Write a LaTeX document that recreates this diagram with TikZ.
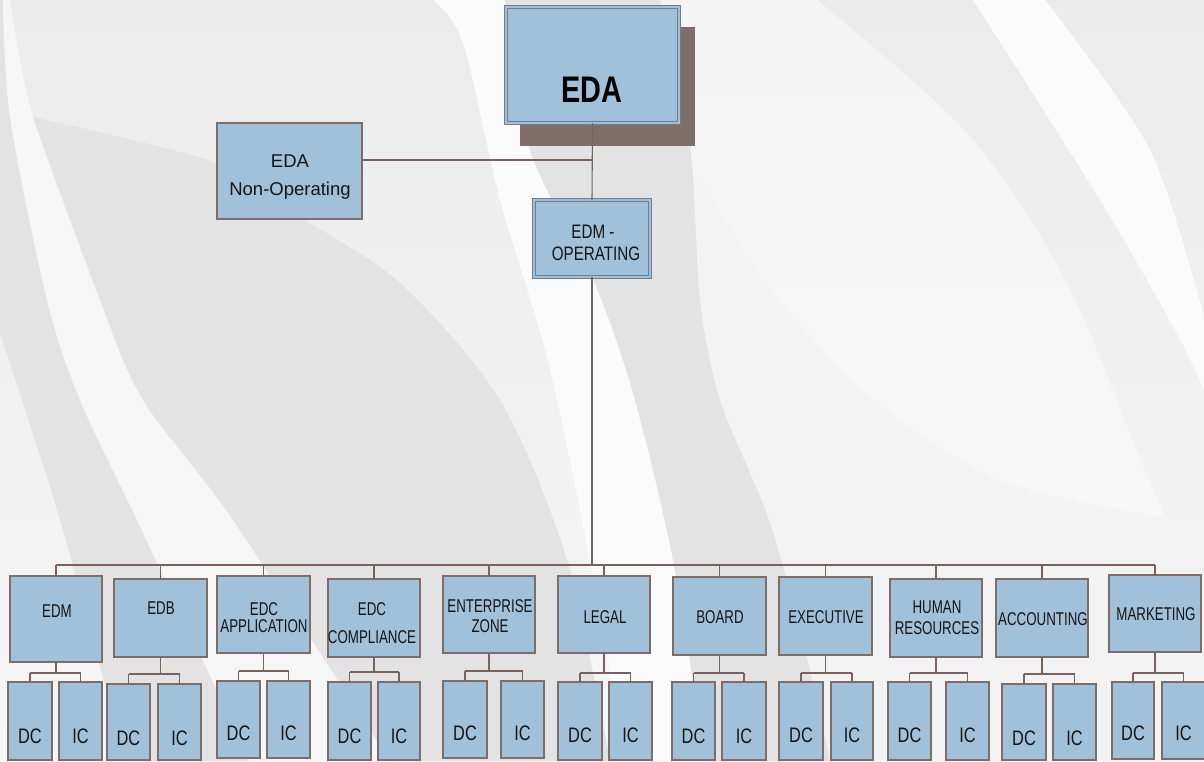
\documentclass[tikz,border=0pt]{standalone}
\usepackage{fontspec}
\setmainfont{Liberation Sans}
\newfontfamily\narf[FakeStretch=0.72]{Liberation Sans}
\newfontfamily\narg[FakeStretch=0.78]{Liberation Sans}
\newfontfamily\nareda[FakeStretch=0.78]{Liberation Sans}
\definecolor{boxfill}{HTML}{A1C0DA}
\definecolor{boxline}{HTML}{7E6C66}
\definecolor{connc}{HTML}{7A625C}
\definecolor{shadowc}{HTML}{7F6E67}
\definecolor{dline}{HTML}{6F7C8C}
\definecolor{txt}{HTML}{151515}
\definecolor{gband}{HTML}{E3E3E3}
\definecolor{wband}{HTML}{FBFBFB}
\definecolor{lband}{HTML}{F6F6F6}
\definecolor{mband}{HTML}{F3F3F3}
\newcommand\bx[6][box]{\node[#1, minimum width={(#5-#3)*1pt}, minimum height={(#6-#4)*1pt}] (#2) at ({(#3+#5)/2},{(#4+#6)/2}) {};}
\newcommand\leaf[7]{\node[box, minimum width={(#4-#2)*1pt}, minimum height={(#5-#3)*1pt}] (#1) at ({(#2+#4)/2},{(#3+#5)/2}) {};
  \node[lf] (#1-t) at ({(#2+#4)/2},#7) {#6};}
\newcommand\kids[4]{%
  \coordinate (#1-j) at (#1.south |- 0,#4);
  \draw[conn] (#1.south) -- (#1-j);
  \draw[conn] (#2.north |- #1-j) -- (#3.north |- #1-j);
  \draw[conn] (#2.north) -- (#2.north |- #1-j);
  \draw[conn] (#3.north) -- (#3.north |- #1-j);}
\begin{document}
\begin{tikzpicture}[x=1pt,y=-1pt,
  box/.style={draw=boxline, line width=1.1pt, fill=boxfill, inner sep=0pt, outer sep=0pt},
  dbox/.style={draw=dline, line width=0.9pt, double=boxfill, double distance=2.2pt, fill=boxfill, inner sep=0pt, outer sep=0pt},
  conn/.style={draw=connc, line width=1.1pt},
  lb/.style={font=\narf\fontsize{18.5}{20}\selectfont, text=txt, inner sep=0pt, anchor=base},
  lf/.style={font=\narg\fontsize{21}{22}\selectfont, text=txt, inner sep=0pt, anchor=base}]
\useasboundingbox (0,0) rectangle (1204,761);
\clip (0,0) rectangle (1204,761);
% ---------------- background
\shade[top color={rgb,255:red,235;green,235;blue,235}, bottom color={rgb,255:red,246;green,246;blue,246}] (0,0) rectangle (1204,761);
% left bands
\fill[gband] (0,0) -- plot[smooth] coordinates {(3,0) (10,117) (47,300) (80,400) (137,520) (250,761)}
  -- plot[smooth] coordinates {(125,761) (60,520) (0,333)} -- cycle;
\fill[lband] plot[smooth] coordinates {(3,0) (10,117) (47,300) (80,400) (137,520) (250,761)}
  -- plot[smooth] coordinates {(390,761) (233,520) (143,400) (100,300) (33,117) (10,0)} -- cycle;
\fill[gband] plot[smooth] coordinates {(33,117) (217,163) (300,217) (400,283) (500,400) (567,560) (610,761)}
  -- plot[smooth] coordinates {(390,761) (233,520) (143,400) (100,300) (33,117)} -- cycle;
% right zone
\shade[top color={rgb,255:red,244;green,244;blue,244}, middle color=white, bottom color={rgb,255:red,248;green,248;blue,248}]
  plot[smooth] coordinates {(660,0) (690,146) (700,300) (720,400) (769,520) (805,650) (830,761)}
  -- (1204,761) -- plot[smooth] coordinates {(1204,600) (1150,483) (1067,283) (967,133) (817,0)} -- cycle;
\fill[mband] plot[smooth] coordinates {(695,170) (780,300) (880,405) (1000,480) (1150,515) (1204,520)}
  -- (1204,761) -- plot[smooth] coordinates {(830,761) (805,650) (769,520) (720,400) (700,300) (695,170)} -- cycle;
\fill[wband] plot[smooth] coordinates {(973,0) (1100,200) (1175,330) (1204,390)}
  -- plot[smooth] coordinates {(1204,317) (1150,150) (1045,0)} -- cycle;
% centre bands
\fill[wband] plot[smooth] coordinates {(433,0) (463,43) (500,200) (547,357) (585,536) (625,761)}
  -- plot[smooth] coordinates {(705,761) (673,560) (633,393) (593,279) (530,150) (505,0)} -- cycle;
\fill[gband] plot[smooth] coordinates {(505,0) (530,150) (593,279) (633,393) (673,560) (705,761)}
  -- plot[smooth] coordinates {(830,761) (805,650) (769,520) (720,400) (700,300) (690,146) (660,0)} -- cycle;
% ---------------- top
\fill[shadowc] (520,27) rectangle (695,146);
\bx[dbox]{eda}{506}{7}{679}{123}
\node[font=\nareda\bfseries\fontsize{37}{40}\selectfont, text=black, inner sep=0pt, anchor=base] (eda-t) at (592,102) {EDA};
\bx{nonop}{217}{123}{362}{219}
\node[font=\fontsize{18.5}{20}\selectfont, text=txt, inner sep=0pt, anchor=base] (nonop-t1) at (290,167) {EDA};
\node[font=\fontsize{18.5}{20}\selectfont, text=txt, inner sep=0pt, anchor=base] (nonop-t2) at (290,195) {Non-Operating};
\bx[dbox]{edmop}{534}{200}{650}{277}
\node[font=\narg\fontsize{19.5}{21}\selectfont, text=txt, inner sep=0pt, anchor=base] (edmop-t1) at (593,238) {EDM -};
\node[font=\narg\fontsize{19.5}{21}\selectfont, text=txt, inner sep=0pt, anchor=base] (edmop-t2) at (596,260) {OPERATING};
\coordinate (j1) at (592,160);
\draw[conn] (eda.south) -- (edmop.north);
\draw[conn] (nonop.east |- j1) -- (j1);
\coordinate (bus) at (592,565);
\draw[conn] (edmop.south) -- (bus);
% ---------------- second level
\bx{edm}{10}{576}{102}{662}
\node[lb] (edm-t) at (57,617) {EDM};
\bx{edb}{114}{579}{207}{657}
\node[lb] (edb-t) at (161,614) {EDB};
\bx{edcapp}{217}{576}{310}{653}
\node[lb] (edcapp-t1) at (264,615) {EDC};
\node[lb] (edcapp-t2) at (264,632) {APPLICATION};
\bx{edccomp}{328}{579}{420}{657}
\node[lb] (edccomp-t1) at (372,615) {EDC};
\node[lb] (edccomp-t2) at (372,643) {COMPLIANCE};
\bx{ez}{443}{576}{535}{653}
\node[lb] (ez-t1) at (490,612) {ENTERPRISE};
\node[lb] (ez-t2) at (490,632) {ZONE};
\bx{legal}{558}{576}{650}{653}
\node[lb] (legal-t) at (605,623) {LEGAL};
\bx{board}{673}{577}{766}{655}
\node[lb] (board-t) at (720,623) {BOARD};
\bx{exec}{779}{577}{872}{655}
\node[lb] (exec-t) at (826,623) {EXECUTIVE};
\bx{hr}{890}{579}{982}{657}
\node[lb] (hr-t1) at (937,613) {HUMAN};
\node[lb] (hr-t2) at (937,634) {RESOURCES};
\bx{acct}{996}{579}{1088}{657}
\node[lb] (acct-t) at (1043,625) {ACCOUNTING};
\bx{mkt}{1109}{575}{1201}{652}
\node[lb] (mkt-t) at (1156,620) {MARKETING};
\draw[conn] (edm.north |- bus) -- (mkt.north |- bus);
\foreach \n in {edm,edb,edcapp,edccomp,ez,legal,board,exec,hr,acct,mkt}
  \draw[conn] (\n.north) -- (\n.north |- bus);
% ---------------- leaves
\leaf{edm-dc}{8}{682}{52}{760}{DC}{743}
\leaf{edm-ic}{59}{682}{102}{760}{IC}{743}
\kids{edm}{edm-dc}{edm-ic}{673}
\leaf{edb-dc}{107}{684}{150}{760}{DC}{745}
\leaf{edb-ic}{158}{684}{201}{760}{IC}{745}
\kids{edb}{edb-dc}{edb-ic}{674}
\leaf{edcapp-dc}{217}{681}{260}{758}{DC}{740}
\leaf{edcapp-ic}{267}{681}{310}{758}{IC}{740}
\kids{edcapp}{edcapp-dc}{edcapp-ic}{671}
\leaf{edccomp-dc}{328}{682}{371}{760}{DC}{743}
\leaf{edccomp-ic}{378}{682}{420}{760}{IC}{743}
\kids{edccomp}{edccomp-dc}{edccomp-ic}{672}
\leaf{ez-dc}{443}{681}{487}{758}{DC}{740}
\leaf{ez-ic}{501}{681}{544}{758}{IC}{740}
\kids{ez}{ez-dc}{ez-ic}{671}
\leaf{legal-dc}{558}{682}{602}{760}{DC}{742}
\leaf{legal-ic}{609}{682}{652}{760}{IC}{742}
\kids{legal}{legal-dc}{legal-ic}{673}
\leaf{board-dc}{672}{682}{715}{760}{DC}{743}
\leaf{board-ic}{722}{682}{766}{760}{IC}{743}
\kids{board}{board-dc}{board-ic}{673}
\leaf{exec-dc}{779}{682}{823}{760}{DC}{742}
\leaf{exec-ic}{831}{682}{873}{760}{IC}{742}
\kids{exec}{exec-dc}{exec-ic}{673}
\leaf{hr-dc}{888}{682}{931}{760}{DC}{742}
\leaf{hr-ic}{946}{682}{989}{760}{IC}{742}
\kids{hr}{hr-dc}{hr-ic}{673}
\leaf{acct-dc}{1002}{684}{1046}{760}{DC}{745}
\leaf{acct-ic}{1053}{684}{1096}{760}{IC}{745}
\kids{acct}{acct-dc}{acct-ic}{674}
\leaf{mkt-dc}{1112}{682}{1154}{759}{DC}{740}
\leaf{mkt-ic}{1162}{682}{1205}{759}{IC}{740}
\kids{mkt}{mkt-dc}{mkt-ic}{673}
\end{tikzpicture}
\end{document}
